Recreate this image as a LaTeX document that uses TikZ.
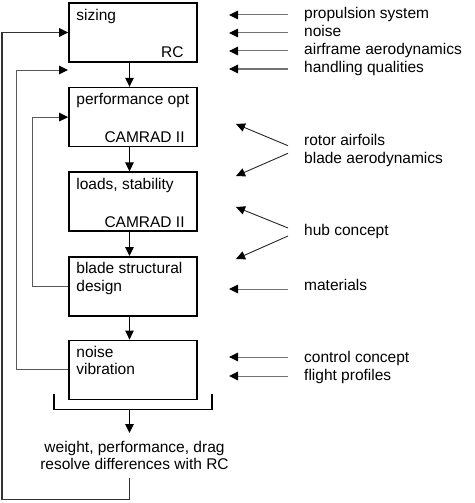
\documentclass[tikz,border=0pt]{standalone}
\usepackage{fontspec}
\setmainfont{Liberation Sans}
\usetikzlibrary{arrows.meta, positioning}
\tikzset{
  blok/.style={draw, line width=1.6pt, minimum width=128pt, minimum height=59pt, inner sep=0pt},
  txt/.style={inner sep=0pt, font=\fontsize{15.5}{17.5}\selectfont},
  chain/.style={draw=black, line width=1pt},
  back/.style={draw=black!65, line width=1pt},
  feed/.style={draw=black!55, line width=1pt},
  slant/.style={draw=black!85, line width=0.9pt},
  tip/.style={-{Triangle[length=9pt,width=8.5pt,color=black]}},
}

\begin{document}
\begin{tikzpicture}[x=1pt,y=-1pt]
  \useasboundingbox (0,0) rectangle (474,503);

  % Design chain
  \node[blok] (sizing) at (133,32.5) {};
  \node[blok, below=24pt of sizing] (perf) {};
  \node[blok, below=24pt of perf] (loads) {};
  \node[blok, below=24pt of loads] (blade) {};
  \node[blok, below=23pt of blade] (noise) {};

  % Box texts
  \node[txt, anchor=north west] at ([xshift=8pt,yshift=-6.5pt]sizing.north west) {sizing};
  \node[txt, anchor=base east] at ([xshift=-14pt,yshift=5pt]sizing.south east) {RC};
  \node[txt, anchor=north west] at ([xshift=8pt,yshift=-6.5pt]perf.north west) {performance opt};
  \node[txt, anchor=base east] at ([xshift=-13pt,yshift=5pt]perf.south east) {CAMRAD II};
  \node[txt, anchor=north west] at ([xshift=8pt,yshift=-6.5pt]loads.north west) {loads, stability};
  \node[txt, anchor=base east] at ([xshift=-13pt,yshift=5pt]loads.south east) {CAMRAD II};
  \node[txt, anchor=north west, align=left] at ([xshift=8pt,yshift=-6.5pt]blade.north west) {blade structural\\design};
  \node[txt, anchor=north west, align=left] at ([xshift=8pt,yshift=-6pt]noise.north west) {noise\\vibration};

  % Arrows down the chain
  \coordinate (spine) at (129.5,0);
  \draw[chain, tip] (sizing.south -| spine) -- (perf.north -| spine);
  \draw[chain, tip] (perf.south -| spine) -- (loads.north -| spine);
  \draw[chain, tip] (loads.south -| spine) -- (blade.north -| spine);
  \draw[chain, tip] (blade.south -| spine) -- (noise.north -| spine);

  % Bracket and result
  \coordinate (brl) at (54,394);
  \coordinate (brr) at (212,394);
  \coordinate (brmid) at (129.5,409.5);
  \draw[chain, line width=1.6pt] (brl) |- (brmid) -| (brr);
  \node[txt, font=\fontsize{15.5}{16.6}\selectfont, align=center, anchor=north, inner ysep=8.5pt] (result) at (134.5,433) {weight, performance, drag\\resolve differences with RC};
  \draw[chain, tip] (brmid) -- (result.north -| brmid);

  % Feedback loops
  \coordinate (c1) at (2,499.5);
  \draw[back, line width=1.3pt, black!80, tip] (result.south -| spine) |- (c1) |- (sizing.west);
  \coordinate (gap1) at (68,70);
  \coordinate (rail2) at (16,0);
  \draw[back, tip] (noise.west) -| (rail2 |- gap1) -- (gap1);
  \coordinate (rail3) at (32,0);
  \draw[back, tip] (blade.west) -| (rail3 |- perf.west) -- (perf.west);

  % Inputs to sizing
  \node[txt, anchor=base west] (prop) at (304,19) {propulsion system};
  \node[txt, anchor=base west] (noisein) at (304,37) {noise};
  \node[txt, anchor=base west] (airframe) at (304,55) {airframe aerodynamics};
  \node[txt, anchor=base west] (handling) at (304,73) {handling qualities};
  \coordinate (tprop) at (229,15);
  \coordinate (tnoise) at (229,33);
  \coordinate (tair) at (229,51);
  \coordinate (thand) at (229,69);
  \draw[feed, tip] ([xshift=-16pt,yshift=4pt]prop.base west) -- (tprop);
  \draw[feed, tip] ([xshift=-16pt,yshift=4pt]noisein.base west) -- (tnoise);
  \draw[feed, tip] ([xshift=-16pt,yshift=4pt]airframe.base west) -- (tair);
  \draw[feed, tip] ([xshift=-16pt,yshift=4pt]handling.base west) -- (thand);

  % Rotor and hub inputs
  \node[txt, anchor=base west] (rotor) at (304,145.7) {rotor airfoils};
  \node[txt, anchor=base west] (bladeaero) at (304,163.3) {blade aerodynamics};
  \node[txt, anchor=base west] (hub) at (304,235) {hub concept};
  \coordinate (trotor) at (236,124);
  \coordinate (tbaero) at (236,176);
  \coordinate (thub1) at (236,207);
  \coordinate (thub2) at (236,259);
  \draw[slant, tip] ([xshift=-16pt]rotor.base west) -- (trotor);
  \draw[slant, tip] ([xshift=-16pt,yshift=10pt]bladeaero.base west) -- (tbaero);
  \draw[slant, tip] ([xshift=-16pt,yshift=7pt]hub.base west) -- (thub1);
  \draw[slant, tip] ([xshift=-16pt,yshift=-1pt]hub.base west) -- (thub2);

  % Lower inputs
  \node[txt, anchor=base west] (mat) at (304,290) {materials};
  \node[txt, anchor=base west] (control) at (304,362.7) {control concept};
  \node[txt, anchor=base west] (flight) at (304,380) {flight profiles};
  \coordinate (tmat) at (229,289);
  \coordinate (tcontrol) at (229,357);
  \coordinate (tflight) at (229,376);
  \draw[feed, tip] ([xshift=-16pt,yshift=1pt]mat.base west) -- (tmat);
  \draw[feed, tip] ([xshift=-16pt,yshift=5.7pt]control.base west) -- (tcontrol);
  \draw[feed, tip] ([xshift=-16pt,yshift=4pt]flight.base west) -- (tflight);
\end{tikzpicture}
\end{document}
